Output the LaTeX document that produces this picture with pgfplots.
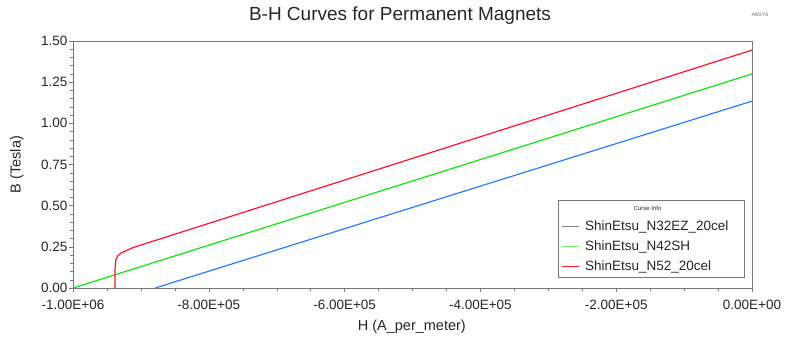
\documentclass[border=0pt]{standalone}
\usepackage{pgfplots}
\pgfplotsset{compat=1.18}
\usepackage{fontspec}
\setmainfont{Liberation Sans}
\definecolor{cblue}{RGB}{40,125,255}
\definecolor{cgreen}{RGB}{20,225,20}
\definecolor{cred}{RGB}{255,20,50}
\definecolor{axgray}{RGB}{120,120,120}
\begin{document}
\begin{tikzpicture}
\path[use as bounding box] (-73pt,-49pt) rectangle (724pt,288pt);
\begin{axis}[
  at={(0pt,0pt)}, anchor=south west,
  scale only axis, width=679pt, height=247pt,
  xmin=-1000000, xmax=0, ymin=0, ymax=1.5,
  xtick={-1000000,-800000,-600000,-400000,-200000,0},
  xticklabels={-1.00E+06,-8.00E+05,-6.00E+05,-4.00E+05,-2.00E+05,0.00E+00},
  scaled x ticks=false,
  ytick={0,0.25,0.5,0.75,1,1.25,1.5},
  yticklabels={0.00,0.25,0.50,0.75,1.00,1.25,1.50},
  minor x tick num=3, minor y tick num=4,
  tick align=outside, tick pos=left,
  major tick length=4pt, minor tick length=2.5pt,
  every tick/.style={axgray},
  axis line style={axgray, line width=0.8pt},
  tick label style={font=\fontsize{13.5}{15}\selectfont, text=black!85},
  xticklabel style={yshift=-5pt},
  yticklabel style={xshift=2pt},
  /pgf/number format/assume math mode=true,
  title={B-H Curves for Permanent Magnets},
  title style={at={(rel axis cs:0.4816,1)}, anchor=center, yshift=19pt, font=\fontsize{19}{22}\selectfont, text=black!85},
  xlabel={H (A\_per\_meter)},
  xlabel style={at={(rel axis cs:0.499,0)}, anchor=center, yshift=-39pt, font=\fontsize{14.5}{17}\selectfont, text=black!85},
  ylabel={B (Tesla)},
  ylabel style={at={(rel axis cs:-0.0825,0.5)}, anchor=center, font=\fontsize{14.5}{17}\selectfont, text=black!85},
  legend style={at={(0.99,0.04)}, anchor=south east, draw=axgray, line width=0.8pt,
    font=\fontsize{13.5}{15}\selectfont, text=black!85, row sep=4.5pt, inner xsep=3pt, inner ysep=4pt,
    nodes={inner xsep=6pt}},
  legend cell align=left,
]
\addlegendimage{empty legend}
\addlegendentry{\hspace{-0.9cm}\makebox[6.2cm]{\fontsize{6}{7}\selectfont Curve Info}}
\addlegendimage{legend image code/.code={\draw[gray, line width=0.8pt] (0pt,0pt) -- (17pt,0pt);}}
\addlegendentry{ShinEtsu\_N32EZ\_20cel}
\addlegendimage{legend image code/.code={\draw[cgreen!60, line width=0.8pt] (0pt,0pt) -- (17pt,0pt);}}
\addlegendentry{ShinEtsu\_N42SH}
\addlegendimage{legend image code/.code={\draw[cred, line width=0.8pt] (0pt,0pt) -- (17pt,0pt);}}
\addlegendentry{ShinEtsu\_N52\_20cel}
\addplot[cblue, line width=1.2pt, forget plot] coordinates {(-879000,0) (0,1.135)};
\addplot[cgreen, line width=1.2pt, forget plot] coordinates {(-1000000,0) (0,1.30)};
\addplot[cred, line width=1.2pt, forget plot] coordinates {(-938000,0) (-938000,0.12) (-937000,0.17) (-934000,0.195) (-929000,0.213) (-922000,0.226) (-912000,0.245) (0,1.445)};
\end{axis}
\node[font=\fontsize{5}{6}\selectfont, text=black!60] at (687pt,273pt) {ANSYS};
\end{tikzpicture}
\end{document}
